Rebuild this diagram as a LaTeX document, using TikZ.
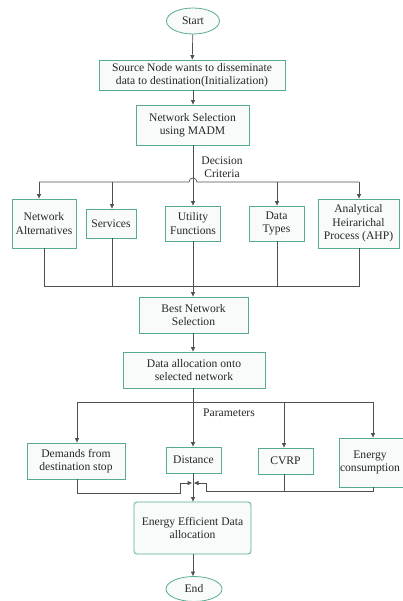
\documentclass[tikz,border=0pt]{standalone}
\usepackage{fontspec}
\setmainfont{Liberation Serif}
\usetikzlibrary{arrows.meta,shapes.geometric,calc}
\definecolor{boxline}{RGB}{88,172,142}
\definecolor{boxfill}{RGB}{249,251,251}
\definecolor{wire}{RGB}{80,80,80}
\tikzset{
  base/.style={draw=boxline, fill=boxfill, line width=0.8pt, inner sep=1pt, align=center,
    font=\fontsize{11.6}{13.5}\selectfont, text=black!85},
  stepbox/.style={base, rectangle},
  termbox/.style={base, ellipse, inner sep=0pt},
  lbl/.style={align=center, font=\fontsize{11.6}{13}\selectfont, text=black!85},
  wireline/.style={draw=wire, line width=0.7pt},
  arr/.style={wireline, -{Triangle[length=4.5pt,width=4pt]}},
}
\begin{document}
\begin{tikzpicture}[x=1pt,y=-1pt]
\useasboundingbox (0,0) rectangle (402,601);

% terminals and process boxes
\node[termbox, minimum width=53pt, minimum height=26pt] (start) at (193,21) {Start};
\node[stepbox, minimum width=186pt, minimum height=30pt] (src) at (192,75)
  {Source Node wants to disseminate\\data to destination(Initialization)};
\node[stepbox, minimum width=113pt, minimum height=40pt] (nsel) at (192.5,125)
  {Network Selection\\using MADM};
\node[lbl] (crit) at (222,167) {Decision\\Criteria};

\node[stepbox, minimum width=64pt, minimum height=49pt] (netalt) at (44,223.5) {Network\\Alternatives};
\node[stepbox, minimum width=50pt, minimum height=29pt] (serv) at (111,223.5) {Services};
\node[stepbox, minimum width=55pt, minimum height=35pt] (util) at (193,223.5) {Utility\\Functions};
\node[stepbox, minimum width=55pt, minimum height=35pt] (dtypes) at (276.5,223.5) {Data\\Types};
\node[stepbox, minimum width=81pt, minimum height=49pt] (ahp) at (358.5,223.5) {Analytical\\Heirarichal\\Process (AHP)};

\node[stepbox, minimum width=109pt, minimum height=36pt] (best) at (193.5,315) {Best Network\\Selection};
\node[stepbox, minimum width=142pt, minimum height=36pt] (alloc) at (194,370) {Data allocation onto\\selected network};
\node[lbl] (params) at (229,413) {Parameters};

\node[stepbox, minimum width=98pt, minimum height=36pt] (demands) at (76,461) {Demands from\\destination stop};
\node[stepbox, minimum width=55pt, minimum height=26pt] (dist) at (193.5,460) {Distance};
\node[stepbox, minimum width=55pt, minimum height=26pt] (cvrp) at (285.5,461) {CVRP};
% this box runs past the right edge; its text is kept inside the page
\node[stepbox, minimum width=72pt, minimum height=49pt] (energy) at (375,462.5) {};
\node[lbl] (energytxt) at (370,462.5) {Energy\\consumption};

\node[stepbox, rounded corners=3pt, minimum width=117pt, minimum height=52pt] (eeff) at (192.5,528)
  {Energy Efficient Data\\allocation};
\node[termbox, minimum width=56pt, minimum height=25pt] (end) at (194,589) {End};

% main flow
\draw[arr] (start) -- (src);
\draw[arr] (src.south -| 193,0) -- (nsel.north -| 193,0);
\draw[arr] (nsel.south -| 193,0) -- (util.north -| 193,0);

% criteria distribution line, hopping over the main flow
\coordinate (ca) at (39,182);
\coordinate (cb) at (112,182);
\coordinate (cc) at (277,182);
\coordinate (cd) at (359,182);
\draw[wireline] (ca) -- (189,182) arc[start angle=180, end angle=0, radius=4pt] -- (cd);
\draw[arr] (ca) -- (ca |- netalt.north);
\draw[arr] (cb) -- (cb |- serv.north);
\draw[arr] (cc) -- (cc |- dtypes.north);
\draw[arr] (cd) -- (cd |- ahp.north);

% criteria collection bus
\coordinate (ba) at (44,286);
\coordinate (bd) at (359,286);
\draw[wireline] (netalt.south) -- (ba) -- (bd) -- (bd |- ahp.south);
\draw[wireline] (serv.south -| 112,0) -- (112,286);
\draw[wireline] (dtypes.south -| 277,0) -- (277,286);
\draw[arr] (util.south -| 193,0) -- (best.north -| 193,0);

\draw[arr] (best.south -| 193,0) -- (alloc.north -| 193,0);

% parameter distribution line
\coordinate (pa) at (77,402);
\coordinate (pc) at (284,402);
\coordinate (pd) at (373,402);
\draw[wireline] (pa) -- (pd);
\draw[arr] (alloc.south -| 193,0) -- (dist.north -| 193,0);
\draw[arr] (pa) -- (pa |- demands.north);
\draw[arr] (pc) -- (pc |- cvrp.north);
\draw[arr] (pd) -- (pd |- energy.north);

% parameter collection towards the final step
\coordinate (join) at (193,483);
\draw[arr] (demands.south -| 77,0) -- (77,493) -- (180,493) -- (180,483) -- ($(join)+(-1,0)$);
\draw[arr] (energy.south -| 373,0) -- (373,491) -- (206,491) -- (206,483) -- ($(join)+(1,0)$);
\draw[wireline] (cvrp.south -| 284,0) -- (284,491);
\draw[arr] (dist.south -| 193,0) -- (eeff.north -| 193,0);
\draw[arr] (eeff.south -| 193,0) -- (end.north -| 193,0);
\end{tikzpicture}
\end{document}
